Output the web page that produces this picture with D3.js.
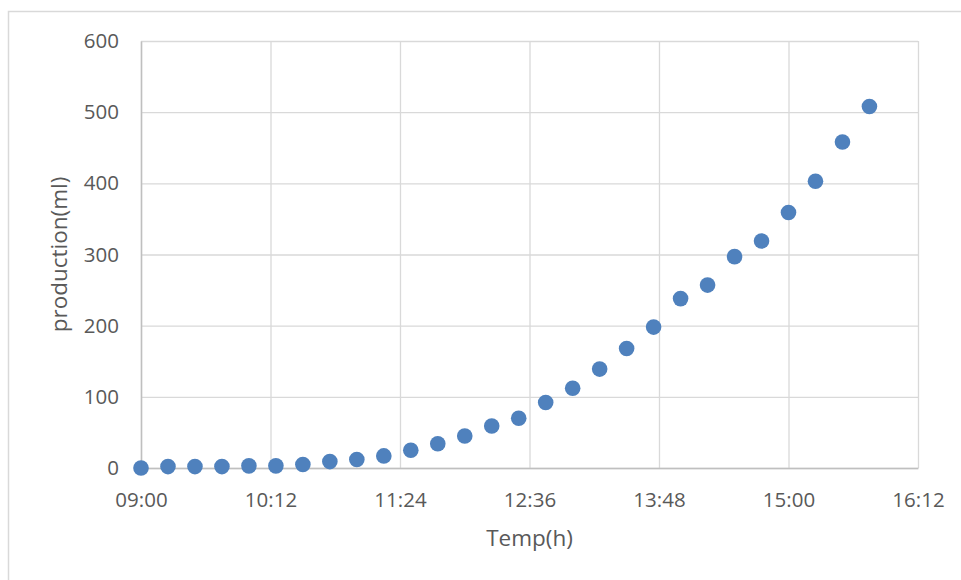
<!DOCTYPE html>
<html>
<head>
<meta charset="utf-8">
<script src="https://cdn.jsdelivr.net/npm/d3@7"></script>
<style>
	body { margin: 0; background: #fff; }
	svg { display: block; }
</style>
</head>
<body>
<div id="chart"></div>
<script>
// sample times (every 15 min) and measured production
var times = ["09:00", "09:15", "09:30", "09:45", "10:00", "10:15", "10:30", "10:45",
	"11:00", "11:15", "11:30", "11:45", "12:00", "12:15", "12:30", "12:45",
	"13:00", "13:15", "13:30", "13:45", "14:00", "14:15", "14:30", "14:45",
	"15:00", "15:15", "15:30", "15:45"];
var production = [0, 2, 2, 2, 3, 3, 5, 9, 12, 17, 25, 34, 45, 59, 70, 92,
	112, 139, 168, 198, 238, 257, 297, 319, 359, 403, 458, 508];

var xTicks = ["09:00", "10:12", "11:24", "12:36", "13:48", "15:00", "16:12"];
var yTicks = [0, 100, 200, 300, 400, 500, 600];

var width = 961;
var height = 580;
var margin = {
	top: 41,
	right: 43,
	bottom: 112,
	left: 141
};

var fontFamily = "'Open Sans', sans-serif";
var textColor = "#595959";
var gridColor = "#d9d9d9";
var dotColor = "#4f81bd";

function toMinutes(s) {
	var p = s.split(":");
	return +p[0] * 60 + +p[1];
}

var data = times.map((t, i) => ({ t: toMinutes(t), label: t, value: production[i] }));

var svg = d3.select("#chart").append("svg")
	.attr("width", width)
	.attr("height", height)
	.style("font-family", fontFamily);

svg.append("rect")
	.attr("x", 8.5)
	.attr("y", 11.5)
	.attr("width", width)
	.attr("height", height)
	.attr("fill", "#fff")
	.attr("stroke", gridColor)
	.attr("stroke-width", 1.5);

var x = d3.scaleLinear()
	.domain([toMinutes(xTicks[0]), toMinutes(xTicks[xTicks.length - 1])])
	.range([margin.left, width - margin.right]);

var y = d3.scaleLinear()
	.domain([0, 600])
	.range([height - margin.bottom, margin.top]);

var tickMap = new Map(xTicks.map(s => [toMinutes(s), s]));

// horizontal grid
svg.append("g")
	.attr("transform", `translate(${margin.left},0)`)
	.call(d3.axisLeft(y).tickValues(yTicks).tickSize(-(width - margin.left - margin.right)).tickFormat(""))
	.call(g => g.select(".domain").remove())
	.call(g => g.selectAll(".tick line").attr("stroke", gridColor).attr("stroke-width", 1.3));

// vertical grid
svg.append("g")
	.attr("transform", `translate(0,${margin.top})`)
	.call(d3.axisTop(x).tickValues(xTicks.map(toMinutes)).tickSize(-(height - margin.top - margin.bottom)).tickFormat(""))
	.call(g => g.select(".domain").remove())
	.call(g => g.selectAll(".tick line").attr("stroke", gridColor).attr("stroke-width", 1.3));

// y axis labels
svg.append("g")
	.attr("transform", `translate(${margin.left},0)`)
	.call(d3.axisLeft(y).tickValues(yTicks).tickSize(0).tickPadding(22))
	.attr("font-family", fontFamily)
	.attr("font-size", "20.5px")
	.call(g => g.select(".domain").attr("stroke", "#bfbfbf").attr("stroke-width", 1.5))
	.call(g => g.selectAll(".tick text").attr("fill", textColor));

// x axis labels
svg.append("g")
	.attr("transform", `translate(0,${height - margin.bottom})`)
	.call(d3.axisBottom(x).tickValues(xTicks.map(toMinutes)).tickSize(0).tickPadding(0)
		.tickFormat(d => tickMap.get(d)))
	.attr("font-family", fontFamily)
	.attr("font-size", "20.5px")
	.call(g => g.select(".domain").attr("stroke", "#bfbfbf").attr("stroke-width", 1.5))
	.call(g => g.selectAll(".tick text")
		.attr("fill", textColor)
		.attr("y", 39)
		.attr("dy", 0));

// axis titles
svg.append("text")
	.attr("x", (margin.left + width - margin.right) / 2)
	.attr("y", 546)
	.attr("text-anchor", "middle")
	.attr("fill", textColor)
	.style("font-size", "22.5px")
	.text("Temp(h)");

svg.append("text")
	.attr("transform", `translate(67,${(margin.top + height - margin.bottom) / 2}) rotate(-90)`)
	.attr("text-anchor", "middle")
	.attr("fill", textColor)
	.style("font-size", "22.5px")
	.text("production(ml)");

// points
svg.append("g")
	.selectAll("circle")
	.data(data)
	.join("circle")
	.attr("cx", d => x(d.t))
	.attr("cy", d => y(d.value))
	.attr("r", 7.8)
	.attr("fill", dotColor);
</script>
</body>
</html>
